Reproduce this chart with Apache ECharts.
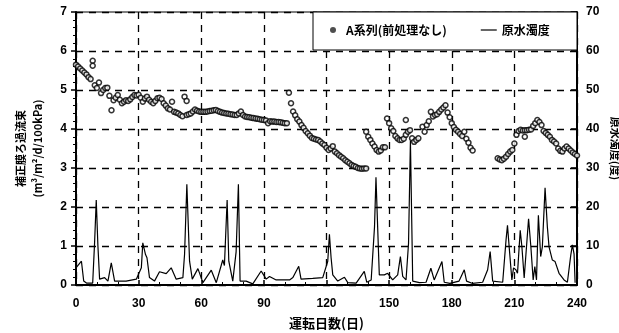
<!DOCTYPE html>
<html>
<head>
<meta charset="utf-8">
<script src="https://cdn.jsdelivr.net/npm/echarts@6/dist/echarts.min.js"></script>
<style>
  html, body { margin: 0; padding: 0; background: #fff; }
  #main { width: 619px; height: 333px; }
</style>
</head>
<body>
<div id="main"></div>
<script>
// A系列 補正膜ろ過流束 (運転日, 値)
var aDay = [0, 1, 2, 3, 4, 5, 6, 7, 8, 8, 9, 10, 11, 12, 13, 14, 15, 16, 17, 18, 19, 20,
  21, 22, 23, 24, 25, 26, 27, 28, 29, 30, 31, 32, 33, 34, 35, 36, 37, 38, 39, 40,
  41, 42, 43, 44, 45, 46, 47, 48, 49, 50, 51, 52, 53, 53, 54, 55, 56, 57, 58, 59, 60,
  61, 62, 63, 64, 65, 66, 67, 68, 69, 70, 71, 72, 73, 74, 75, 76, 77, 78, 79, 80,
  81, 82, 83, 84, 85, 86, 87, 88, 89, 90, 91, 92, 93, 94, 95, 96, 97, 98, 99, 100, 101,
  102, 103, 104, 105, 106, 107, 108, 109, 110, 111, 112, 113, 114, 115, 116, 117, 118, 119, 120,
  121, 122, 123, 124, 125, 126, 127, 128, 129, 130, 131, 132, 133, 134, 135, 136, 137, 138, 139,
  139, 140, 141, 142, 143, 144, 145, 146, 147, 148,
  149, 150, 151, 152, 153, 154, 155, 156, 157, 158, 158, 159, 160, 161, 162, 163, 164,
  166, 167, 168, 169, 170, 171, 172, 173, 174, 175, 176, 177, 178, 179, 180,
  181, 182, 183, 184, 185, 186, 187, 188, 189, 190,
  202, 203, 204, 205, 206, 207, 208, 209, 210, 211, 212, 213, 214, 215, 215, 216, 217, 218, 219, 220,
  221, 222, 223, 224, 225, 226, 227, 228, 229, 230, 231, 232, 233, 234, 235, 236, 237, 238, 239, 240];
var aVal = [5.65, 5.6, 5.55, 5.5, 5.45, 5.4, 5.33, 5.28, 5.75, 5.62, 5.12, 5.05, 5.19, 4.92, 5.0, 5.05, 5.06, 4.85, 4.48, 4.74, 4.8, 4.87,
  4.75, 4.66, 4.7, 4.74, 4.72, 4.76, 4.82, 4.87, 4.86, 4.88, 4.8, 4.7, 4.78, 4.83, 4.75, 4.7, 4.66, 4.72, 4.79, 4.8,
  4.77, 4.66, 4.6, 4.53, 4.5, 4.7, 4.44, 4.42, 4.4, 4.36, 4.33, 4.83, 4.72, 4.36, 4.38, 4.4, 4.45, 4.5, 4.47, 4.45, 4.44,
  4.44, 4.44, 4.45, 4.46, 4.47, 4.48, 4.49, 4.46, 4.44, 4.42, 4.41, 4.4, 4.39, 4.38, 4.37, 4.36, 4.36, 4.4, 4.45, 4.36,
  4.32, 4.31, 4.3, 4.29, 4.28, 4.27, 4.26, 4.25, 4.24, 4.23, 4.22, 4.15, 4.2, 4.19, 4.19, 4.18, 4.18, 4.17, 4.16, 4.15, 4.15,
  4.93, 4.66, 4.45, 4.35, 4.25, 4.19, 4.1, 4.03, 3.95, 3.89, 3.83, 3.77, 3.75, 3.73, 3.72, 3.68, 3.63, 3.59, 3.52,
  3.46, 3.5, 3.56, 3.42, 3.38, 3.33, 3.29, 3.25, 3.2, 3.16, 3.12, 3.08, 3.05, 3.03, 3.0, 2.99, 2.98, 2.99, 2.99,
  3.93, 3.8, 3.72, 3.63, 3.55, 3.46, 3.42, 3.45, 3.53, 3.53,
  4.27, 4.15, 4.02, 3.95, 3.82, 3.76, 3.72, 3.72, 3.75, 4.23, 3.85, 3.93, 3.97, 3.76, 3.67, 3.72, 3.76,
  4.06, 3.93, 4.1, 4.2, 4.44, 4.32, 4.36, 4.38, 4.44, 4.5, 4.55, 4.61, 4.42, 4.3, 4.15,
  4.05, 3.98, 3.93, 3.87, 3.82, 3.93, 3.75, 3.65, 3.52, 3.45,
  3.25, 3.22, 3.2, 3.24, 3.29, 3.36, 3.42, 3.46, 3.63, 3.85, 3.95, 3.98, 3.96, 3.8, 3.97, 3.97, 3.98, 3.99, 4.08, 4.15,
  4.23, 4.18, 4.1, 3.95, 3.9, 3.85, 3.8, 3.72, 3.68, 3.63, 3.5, 3.44, 3.42, 3.5, 3.55, 3.5, 3.45, 3.4, 3.36, 3.32];

// 原水濁度 (運転日, 度)
var turbDay = [0, 2.6, 3.7, 5, 8, 8.9, 9.7, 10.5, 11.3, 13.7, 15.3, 16.9, 18.5, 24, 28.9, 31.3, 32, 33.3, 34, 35.2,
  37.6, 40, 43.2, 45.6, 48, 51.2, 52, 53.1, 54.4, 55.7, 58.4, 60.8, 64.8, 67.2, 70.3, 71.1, 72.4, 73.2, 75.1, 76.7,
  77.8, 78.6, 81.5, 84.7, 88.7, 91.1, 92.7, 95.9, 102.3, 103.9, 106.7, 107.8, 113.4, 118.2, 120.6, 121.4, 122.2, 123,
  125.4, 128.6, 130.2, 134.2, 138.1, 139.3, 141.4, 143, 143.7, 144.5, 145.3, 147.7, 149.3, 151.7, 154.1, 155.4, 156.5,
  158.1, 159.3, 160.2, 161.3, 164.5, 167.7, 170, 171.6, 175.3, 176.4, 179.1, 183.5, 186, 187.1, 190, 194.8, 197.2,
  198.4, 199.6, 204.4, 206, 206.7, 207.5, 208.8, 209.6, 210.7, 211.5, 212.8, 213.6, 214.7, 216.8, 217.9, 219, 219.8,
  220.6, 221.5, 222.6, 223.4, 224.7, 225.8, 226.6, 228.2, 229.5, 231.4, 233.8, 235.4, 237, 237.8, 238.6, 239.1];
var turbVal = [4.4, 6.1, 1, 0.5, 0.5, 10.8, 21.8, 10, 1.5, 1.9, 1, 5.7, 1, 1, 1.5, 4.4, 10.8, 7.8, 7, 1.9,
  1, 3.4, 2.9, 4.4, 1.5, 1.9, 7.8, 25.8, 6.1, 1.5, 4.2, 0.6, 3.8, 0.6, 6.4, 5, 21.8, 6.1, 1, 8.5,
  25.8, 1, 1, 0.3, 3.6, 1.5, 2.2, 1.3, 1.3, 1.9, 4.8, 1.5, 1.7, 1.9, 6.1, 13, 7, 2.6,
  1, 2, 0.6, 0.5, 3.5, 0.7, 1.3, 14.9, 27.6, 14.9, 2.6, 2.6, 3, 1.3, 2.6, 7.3, 2.2,
  1.3, 10.7, 37, 1, 0.6, 0.7, 4.3, 1.3, 6, 0.7, 0.4, 1, 3.9, 1, 0.4, 0.7, 3.9,
  8.6, 1, 0.7, 11.5, 15.3, 9.8, 1.3, 4.4, 3.9, 3, 14, 9.8, 1.8, 17, 9.8, 1.3, 4.7,
  1.3, 17.9, 7.3, 9.8, 24.9, 14.9, 9.8, 6.4, 6, 3, 1.3, 0.7, 7.6, 10.3, 7.9, 0.6];

var aData = [];
for (var i = 0; i < aDay.length; i++) aData.push([aDay[i], aVal[i]]);
var turbData = [];
for (var j = 0; j < turbDay.length; j++) turbData.push([turbDay[j], turbVal[j]]);

var numFont = { color: '#000', fontSize: 12, fontWeight: 'bold', fontFamily: 'Liberation Sans, Arial, sans-serif' };
var jpFont = 'Noto Sans CJK JP, sans-serif';
var dashed = { color: '#000', width: 1.3, type: [7, 6] };

var chart = echarts.init(document.getElementById('main'));
chart.setOption({
  animation: false,
  backgroundColor: '#fff',
  grid: { left: 76, right: 42, top: 12, bottom: 48, outerBoundsMode: 'none', containLabel: false,
    show: true, borderColor: '#000', borderWidth: 1 },
  graphic: [{
    type: 'rect', z: 5,
    shape: { x: 313, y: 12, width: 264, height: 38 },
    style: { fill: '#fff', stroke: '#000', lineWidth: 1 }
  }],
  legend: {
    z: 10,
    left: 325, top: 19,
    itemWidth: 16, itemHeight: 6, itemGap: 34,
    textStyle: { color: '#000', fontSize: 12, fontWeight: 'bold', fontFamily: jpFont },
    data: [
      { name: 'A系列(前処理なし)', icon: 'circle', itemStyle: { color: '#222', borderWidth: 0 } },
      { name: '原水濁度', icon: 'path://M0,0H40V3H0Z', itemStyle: { color: '#000' } }
    ]
  },
  xAxis: {
    type: 'value', min: 0, max: 240, interval: 30,
    name: '運転日数(日)', nameLocation: 'middle', nameGap: 32,
    nameTextStyle: { color: '#000', fontSize: 13, fontWeight: 'bold', fontFamily: jpFont },
    axisLine: { lineStyle: { color: '#000', width: 2 } },
    axisTick: { inside: true, length: 5, lineStyle: { color: '#000', width: 1.5 } },
    minorTick: { show: true, splitNumber: 3, length: 3, lineStyle: { color: '#000' } },
    axisLabel: Object.assign({ margin: 13 }, numFont),
    splitLine: { show: true, lineStyle: dashed }
  },
  yAxis: [{
    type: 'value', min: 0, max: 7, interval: 1,
    name: '補正膜ろ過流束\n(m³/m²/d/100kPa)', nameLocation: 'middle', nameGap: 30, nameRotate: 90,
    nameTextStyle: { color: '#000', fontSize: 11, fontWeight: 'bold', fontFamily: jpFont, lineHeight: 17 },
    axisLine: { show: true, lineStyle: { color: '#000', width: 2 } },
    axisTick: { show: true, length: 5, lineStyle: { color: '#000', width: 1.5 } },
    minorTick: { show: true, splitNumber: 5, length: 3, lineStyle: { color: '#000' } },
    axisLabel: Object.assign({ margin: 9 }, numFont),
    splitLine: { show: true, lineStyle: dashed }
  }, {
    type: 'value', min: 0, max: 70, interval: 10, position: 'right',
    name: '原水濁度(度)', nameLocation: 'middle', nameGap: 33, nameRotate: -90, nameMoveOverlap: false,
    nameTextStyle: { color: '#000', fontSize: 11, fontWeight: 'bold', fontFamily: jpFont },
    axisLine: { show: true, lineStyle: { color: '#000', width: 2 } },
    axisTick: { show: true, inside: true, length: 6, lineStyle: { color: '#000', width: 1.5 } },
    axisLabel: Object.assign({ margin: 9 }, numFont),
    splitLine: { show: false }
  }],
  series: [{
    name: '原水濁度',
    type: 'line',
    yAxisIndex: 1,
    data: turbData,
    symbol: 'none',
    lineStyle: { color: '#000', width: 1.2 },
    itemStyle: { color: '#000' },
    z: 2
  }, {
    name: 'A系列(前処理なし)',
    type: 'scatter',
    yAxisIndex: 0,
    data: aData,
    symbol: 'circle',
    symbolSize: 5,
    itemStyle: { color: '#fff', borderColor: '#000', borderWidth: 1.5 },
    z: 3
  }]
});
</script>
</body>
</html>
